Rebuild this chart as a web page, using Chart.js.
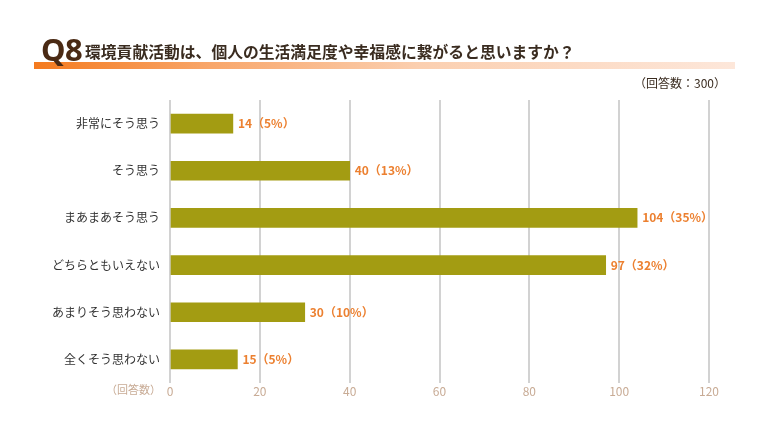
<!DOCTYPE html>
<html lang="ja">
<head>
<meta charset="utf-8">
<script src="https://cdn.jsdelivr.net/npm/chart.js@4"></script>
<style>
  body { margin: 0; background: #fff; font-family: "Noto Sans CJK JP", "Noto Sans", sans-serif; }
  #wrap { position: relative; width: 768px; height: 432px; overflow: hidden; }
  #chart { position: absolute; left: 0; top: 0; }
  .band {
    position: absolute; left: 34px; top: 62px; width: 701px; height: 7px;
    background: linear-gradient(to right, #f47a1e 0%, #f8a66a 25%, #fbcfb0 55%, #fde7da 100%);
  }
  .qno {
    position: absolute; left: 41px; top: 34px; font-family: "Noto Sans", sans-serif;
    font-size: 31px; line-height: 31px; font-weight: bold;
    color: #4a2a14; letter-spacing: -0.5px;
  }
  .qtext {
    position: absolute; left: 85px; top: 43px; font-size: 15.8px; line-height: 18px;
    font-weight: bold; color: #3a2c20; white-space: nowrap;
  }
  .count {
    position: absolute; right: 42px; top: 75px; font-size: 12px; line-height: 16px;
    color: #3a2c20; white-space: nowrap;
  }
</style>
</head>
<body>
<div id="wrap">
  <canvas id="chart" width="768" height="432"></canvas>
  <div class="band"></div>
  <div class="qno">Q8</div>
  <div class="qtext">環境貢献活動は、個人の生活満足度や幸福感に繋がると思いますか？</div>
  <div class="count">（回答数：300）</div>
</div>
<script>
// --- データ ---
const categories = ['非常にそう思う', 'そう思う', 'まあまあそう思う', 'どちらともいえない', 'あまりそう思わない', '全くそう思わない'];
const counts = [14, 40, 104, 97, 30, 15];
const percents = ['5%', '13%', '35%', '32%', '10%', '5%'];
const xTicks = [0, 20, 40, 60, 80, 100, 120];

const barColor = '#a39c12';
const labelColor = '#ec8030';
const tickColor = '#c8ab95';

// バーの右に「値（%）」を描く
const valueLabels = {
  id: 'valueLabels',
  afterDatasetsDraw(chart) {
    const ctx = chart.ctx;
    const meta = chart.getDatasetMeta(0);
    ctx.save();
    ctx.font = 'bold 12px "Noto Sans CJK JP"';
    ctx.fillStyle = labelColor;
    ctx.textAlign = 'left';
    ctx.textBaseline = 'middle';
    meta.data.forEach((bar, i) => {
      ctx.fillText(counts[i] + '（' + percents[i] + '）', bar.x + 5, bar.y);
    });
    ctx.restore();
  }
};

// x軸の左に「（回答数）」
const axisUnit = {
  id: 'axisUnit',
  afterDraw(chart) {
    const ctx = chart.ctx;
    const x = chart.scales.x;
    ctx.save();
    ctx.font = '11px "Noto Sans CJK JP"';
    ctx.fillStyle = tickColor;
    ctx.textAlign = 'right';
    ctx.textBaseline = 'middle';
    ctx.fillText('（回答数）', x.left - 9, x.top + 7);
    ctx.restore();
  }
};

new Chart(document.getElementById('chart'), {
  type: 'bar',
  data: {
    labels: categories,
    datasets: [{
      data: counts,
      backgroundColor: barColor,
      barThickness: 19
    }]
  },
  options: {
    indexAxis: 'y',
    responsive: false,
    animation: false,
    layout: { padding: { top: 100, right: 59, bottom: 0, left: 0 } },
    plugins: { legend: { display: false }, tooltip: { enabled: false } },
    scales: {
      x: {
        min: 0,
        max: 120,
        afterBuildTicks(scale) { scale.ticks = xTicks.map(v => ({ value: v })); },
        afterFit(scale) { scale.height = 49; },
        border: { display: false },
        grid: { color: '#d2d2d2', lineWidth: 2, drawTicks: false },
        ticks: { color: tickColor, padding: 1, font: { size: 12, family: '"Noto Sans CJK JP"' } }
      },
      y: {
        afterFit(scale) { scale.width = 170; },
        border: { display: false },
        grid: { display: false, drawTicks: false },
        ticks: { color: '#333', padding: 10, font: { size: 12, family: '"Noto Sans CJK JP"' } }
      }
    }
  },
  plugins: [valueLabels, axisUnit]
});
</script>
</body>
</html>
